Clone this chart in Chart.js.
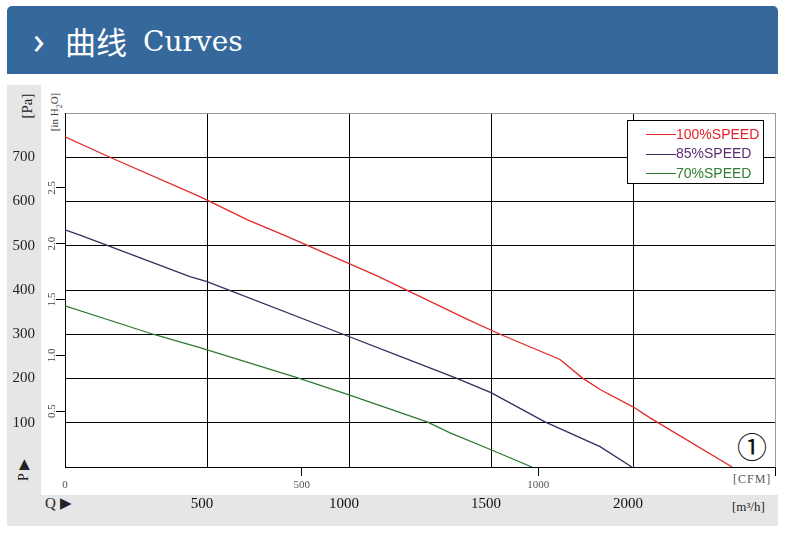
<!DOCTYPE html>
<html>
<head>
<meta charset="utf-8">
<script src="https://cdn.jsdelivr.net/npm/chart.js@4.4.1/dist/chart.umd.min.js"></script>
<style>
  body { margin: 0; background: #fff; }
  #wrap { position: relative; width: 786px; height: 537px; overflow: hidden; }
  #head { position: absolute; left: 7px; top: 6px; width: 771px; height: 68px; background: #35689b; border-radius: 5px 5px 0 0; }
  .grey { position: absolute; background: #e6e6e6; }
  .t { position: absolute; white-space: nowrap; color: #222; font-family: "Liberation Serif", serif; }
  .rot { position: absolute; white-space: nowrap; transform: translate(-50%, -50%) rotate(-90deg); color: #222; font-family: "Liberation Serif", serif; }
  canvas { position: absolute; left: 0; top: 0; }
</style>
</head>
<body>
<div id="wrap">
  <div id="head">
    <span class="t" style="left:26px; top:10px; color:#fff; font-family:'Noto Sans'; font-size:38px; line-height:46px;">›</span>
    <span class="t" style="left:58px; top:15px; color:#fff; font-family:'Noto Sans CJK SC'; font-size:31px; line-height:40px;">曲线</span>
    <span class="t" style="left:136px; top:16px; color:#fff; font-family:'DejaVu Serif'; font-size:28px; line-height:40px;">Curves</span>
  </div>
  <div class="grey" style="left:7px; top:85px; width:34px; height:441px;"></div>
  <div class="grey" style="left:7px; top:495px; width:771px; height:31px;"></div>

  <div class="rot" style="left:27px; top:106px; font-size:15px;">[Pa]</div>
  <div class="rot" style="left:56px; top:112px; font-size:11px; color:#444;">[in H<sub style="font-size:8px;">2</sub>O]</div>
  <div class="rot" style="left:23px; top:470px; font-size:14px;">P ▶</div>
  <div class="t" style="left:45px; top:494px; font-size:15px; line-height:18px;">Q ▶</div>
  <div class="t" style="left:733px; top:472px; font-size:12px; letter-spacing:1px; color:#555;">[CFM]</div>
  <div class="t" style="left:732px; top:499px; font-size:13px;">[m³/h]</div>
  <div class="t" style="left:737px; top:427px; font-family:'Noto Sans CJK SC'; font-size:30px; line-height:36px; color:#111;">①</div>

  <canvas id="graphique" width="786" height="537"></canvas>
</div>
<script>
// donnees : debit en m3/h, pression en Pa
const labels = ["100%SPEED", "85%SPEED", "70%SPEED"];
const flow100 = [0, 158, 475, 641, 775, 1099, 1419, 1532, 1743, 1820, 1884, 2000, 2060, 2349];
const press100 = [746, 700, 611, 559, 523, 432, 333, 300, 243, 202, 175, 136, 111, 0];
const flow85 = [0, 53, 440, 500, 979, 1180, 1373, 1500, 1690, 1884, 1996];
const press85 = [536, 524, 430, 419, 300, 250, 202, 168, 102, 46, 0];
const flow70 = [0, 310, 475, 817, 1000, 1275, 1356, 1500, 1644];
const press70 = [364, 300, 270, 202, 163, 102, 77, 39, 0];

const lineColors = ["#e42a2a", "#3d2b5c", "#2f7a33"];
const legendColors = ["#e8202a", "#5b2c6f", "#2e7d32"];

function points(xs, ys) {
    let pts = [];
    for (let i = 0; i < xs.length; i++) {
        pts.push({ x: xs[i], y: ys[i] });
    }
    return pts;
}

Chart.defaults.font.family = "'Liberation Serif', serif";

// legende encadree en haut a droite
const legendBox = {
    id: "legendBox",
    afterDraw(chart) {
        let ctx = chart.ctx;
        let a = chart.chartArea;
        let x = a.right - 148, y = a.top + 7, w = 136, h = 63;
        ctx.save();
        ctx.fillStyle = "#fff";
        ctx.fillRect(x, y, w, h);
        ctx.strokeStyle = "#000";
        ctx.lineWidth = 1;
        ctx.strokeRect(x + 0.5, y + 0.5, w, h);
        ctx.font = "14px 'Liberation Sans', Arial";
        ctx.textBaseline = "middle";
        chart.data.datasets.forEach(function (ds, i) {
            let ly = y + 14 + i * 19.5;
            ctx.strokeStyle = ds.borderColor;
            ctx.beginPath();
            ctx.moveTo(x + 19, Math.round(ly) + 0.5);
            ctx.lineTo(x + 49, Math.round(ly) + 0.5);
            ctx.stroke();
            ctx.fillStyle = legendColors[i];
            ctx.fillText(ds.label, x + 49, ly + 1);
        });
        ctx.restore();
    }
};

let ctx = document.getElementById("graphique").getContext("2d");
let chart = new Chart(ctx, {
    type: "line",
    data: {
        datasets: [
            { label: labels[0], data: points(flow100, press100), borderColor: lineColors[0] },
            { label: labels[1], data: points(flow85, press85), borderColor: lineColors[1] },
            { label: labels[2], data: points(flow70, press70), borderColor: lineColors[2] }
        ]
    },
    options: {
        responsive: false,
        animation: false,
        layout: { padding: { top: 113, right: 11, left: 0, bottom: 0 } },
        elements: {
            point: { radius: 0 },
            line: { borderWidth: 1.3, tension: 0 }
        },
        plugins: {
            legend: { display: false },
            tooltip: { enabled: false }
        },
        scales: {
            x: {
                type: "linear", position: "bottom", min: 0, max: 2500, weight: 1,
                afterFit: function (s) { s.height = 45; },
                border: { display: false },
                grid: {
                    drawTicks: false,
                    color: function (c) { return c.tick && c.tick.value === 2500 ? "#9a9a9a" : "#000"; }
                },
                ticks: {
                    stepSize: 500, padding: 3, labelOffset: -5, color: "#111",
                    font: { size: 15 }, maxRotation: 0, autoSkip: false,
                    callback: function (v) { return (v === 0 || v === 2500) ? "" : v; }
                }
            },
            x2: {
                type: "linear", position: "bottom", min: 0, max: 1500, weight: 0,
                afterFit: function (s) { s.height = 25; },
                border: { display: true, color: "#000" },
                grid: {
                    drawOnChartArea: false, tickLength: 9,
                    color: function (c) { return c.tick && c.tick.value === 0 ? "rgba(0,0,0,0)" : "#000"; }
                },
                ticks: {
                    stepSize: 500, padding: 3, color: "#555", font: { size: 11 }, maxRotation: 0,
                    callback: function (v) { return v === 1500 ? "" : v; }
                }
            },
            y: {
                type: "linear", position: "left", min: 0, max: 800, weight: 1,
                afterFit: function (s) { s.width = 41; },
                border: { display: false },
                grid: {
                    drawTicks: false,
                    color: function (c) { return c.tick && c.tick.value === 800 ? "#9a9a9a" : "#000"; }
                },
                ticks: {
                    stepSize: 100, padding: 6, color: "#222", font: { size: 15 },
                    callback: function (v) { return (v === 0 || v === 800) ? "" : v; }
                }
            },
            y2: {
                type: "linear", position: "left", min: 0, max: 3.17, weight: 0,
                afterFit: function (s) { s.width = 24; },
                afterBuildTicks: function (s) {
                    s.ticks = s.ticks.filter(function (t) { return t.value > 0 && t.value <= 2.5; });
                },
                border: { display: true, color: "#000" },
                grid: { drawOnChartArea: false, tickLength: 9, color: "#000" },
                ticks: {
                    stepSize: 0.5, minRotation: 90, maxRotation: 90, crossAlign: "center",
                    padding: -3, color: "#444", font: { size: 11 },
                    callback: function (v) { return v.toFixed(1); }
                }
            }
        }
    },
    plugins: [legendBox]
});
</script>
</body>
</html>
